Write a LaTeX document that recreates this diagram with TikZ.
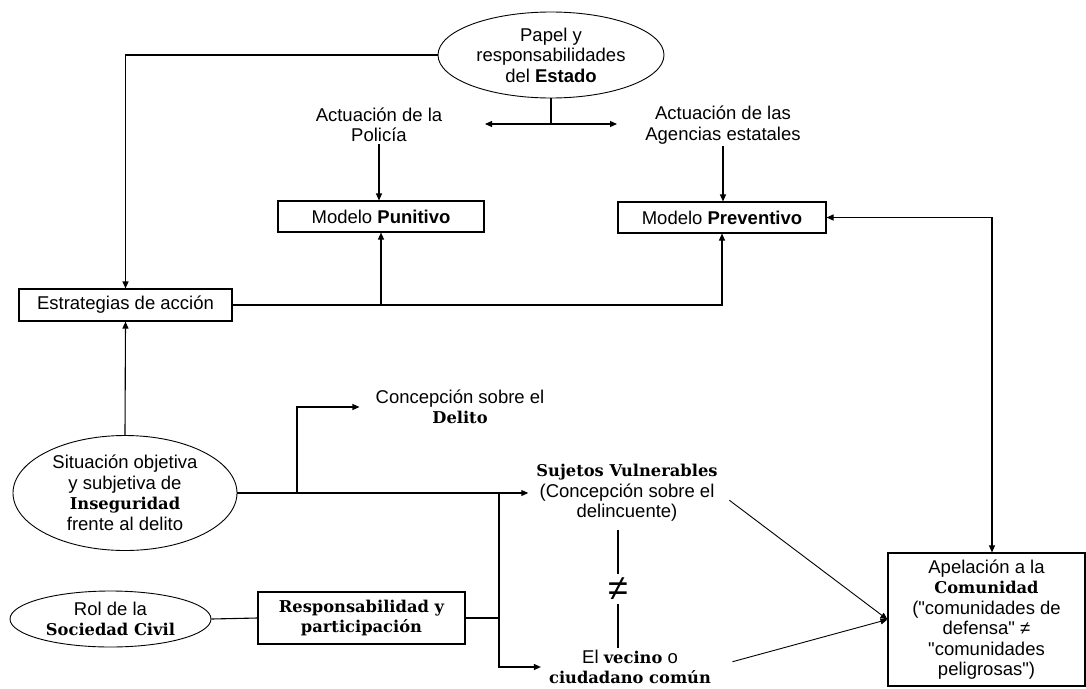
\documentclass[tikz,border=0pt]{standalone}
\usepackage{fontspec}
\setmainfont{Liberation Sans}[Ligatures=TeXOff]
\newfontfamily\serifdv[Scale=0.88]{DejaVu Serif}
\usetikzlibrary{arrows.meta, shapes.geometric, calc}
\newcommand{\fuerte}[1]{{\bfseries #1}}
\newcommand{\fuerteserif}[1]{{\serifdv\bfseries #1}}
\tikzset{
    caja/.style={
        rectangle, draw=black, line width=1.1pt, align=center, inner sep=0pt
    },
    globo/.style={
        ellipse, draw=black, line width=0.9pt, align=center, inner sep=0pt
    },
    texto/.style={align=center, inner sep=2pt},
    linea/.style={line width=1.1pt},
    flecha/.style={-{Triangle[length=7pt, width=6pt]}, line width=1.1pt},
    flechas/.style={{Triangle[length=7pt, width=6pt]}-{Triangle[length=7pt, width=6pt]}, line width=1.1pt}
}

\begin{document}
\begin{tikzpicture}[x=1pt, y=-1pt, font=\fontsize{18.5}{20.5}\selectfont]
    \useasboundingbox (0,0) rectangle (1086,688);

    % parte superior
    \node[globo, minimum width=226, minimum height=86] (estado) at (551,55) {Papel y\\responsabilidades\\del \fuerte{Estado}};
    \node[texto] (policia) at (379,125) {Actuación de la\\Policía};
    \node[texto] (agencias) at (723,125) {Actuación de las\\Agencias estatales};
    \node[caja, minimum width=206, minimum height=31] (punitivo) at (381,216.5) {Modelo \fuerte{Punitivo}};
    \node[caja, minimum width=208, minimum height=31] (preventivo) at (722,217.5) {Modelo \fuerte{Preventivo}};
    \node[caja, minimum width=213, minimum height=32] (estrategias) at (125.5,305) {Estrategias de acción};

    % parte inferior
    \node[globo, minimum width=224, minimum height=115] (situacion) at (125,493) {Situación objetiva\\y subjetiva de\\\fuerteserif{Inseguridad}\\frente al delito};
    \node[texto] (delito) at (460,407) {Concepción sobre el\\\fuerteserif{Delito}};
    \node[texto] (sujetos) at (627,493) {\fuerteserif{Sujetos Vulnerables}\\(Concepción sobre el\\delincuente)};
    \node[font=\fontsize{36}{36}\selectfont, inner sep=0pt, minimum height=30] (distinto) at (618,589) {≠};
    \node[texto] (vecino) at (630,667) {El \fuerteserif{vecino} o\\\fuerteserif{ciudadano común}};
    \node[globo, minimum width=201, minimum height=56] (rol) at (110.5,619) {Rol de la\\\fuerteserif{Sociedad Civil}};
    \node[caja, minimum width=207, minimum height=52] (resp) at (361.5,618) {\fuerteserif{Responsabilidad y}\\\fuerteserif{participación}};
    \node[caja, minimum width=197, minimum height=133] (apelacion) at (986.5,619.5) {Apelación a la\\\fuerteserif{Comunidad}\\("comunidades de\\defensa" ≠\\"comunidades\\peligrosas")};

    \coordinate (izq) at (485,124);
    \coordinate (der) at (617,124);
    \coordinate (rama) at (297,493);
    \coordinate (nudo) at (499,493);

    \draw[flecha] (estado.west) -| (estrategias.north);
    \draw[linea] (estado.south) -- (estado.south |- izq);
    \draw[flechas] (izq) -- (der);
    \draw[flecha] (policia.south) -- (policia.south |- punitivo.north);
    \draw[flecha] (agencias.south) -- (agencias.south |- preventivo.north);
    \draw[flecha] (estrategias.east) -| (preventivo.south);
    \draw[flecha] (estrategias.east -| punitivo.south) -- (punitivo.south);
    \draw[flecha] (situacion.north) -- (estrategias.south);
    \draw[flechas] (preventivo.east) -| ($(apelacion.north)+(5.5,0)$);

    \draw[flecha, shorten >=6pt] (situacion.east) -- (sujetos.west);
    \draw[flecha, shorten >=14pt] (rama) |- (delito.west);
    \draw[linea] (rol.east) -- (resp.west);
    \draw[linea] (resp.east) -- (resp.east -| nudo);
    \draw[flecha, shorten >=6pt] (nudo) |- (vecino.west);
    \draw[linea, shorten <=6pt] (distinto.north |- sujetos.south) -- (distinto.north);
    \draw[linea] (distinto.south) -- (distinto.south |- vecino.north);
    \draw[flecha, line width=0.9pt, shorten <=12pt] (sujetos.east) -- (apelacion.west);
    \draw[flecha, line width=0.9pt, shorten <=20pt] (vecino.east) -- (apelacion.west);
\end{tikzpicture}
\end{document}
